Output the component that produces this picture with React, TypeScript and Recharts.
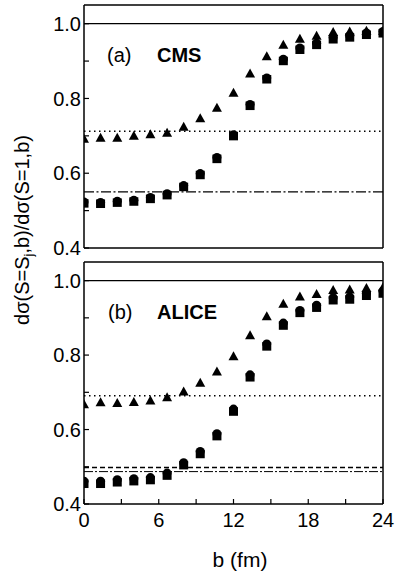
import { ScatterChart, Scatter, XAxis, YAxis, ReferenceLine } from "recharts";

// impact parameter grid (fm), same for all series
const bValues = [0, 1.33, 2.67, 4, 5.33, 6.67, 8, 9.33, 10.67, 12, 13.33, 14.67, 16, 17.33, 18.67, 20, 21.33, 22.67, 24];

// (a) CMS
const cmsTriangles = [0.692, 0.695, 0.695, 0.7, 0.704, 0.708, 0.724, 0.747, 0.775, 0.815, 0.867, 0.913, 0.944, 0.96, 0.968, 0.978, 0.979, 0.981, 0.981];
const cmsSquares = [0.52, 0.519, 0.522, 0.525, 0.532, 0.542, 0.564, 0.596, 0.639, 0.7, 0.781, 0.852, 0.901, 0.931, 0.944, 0.959, 0.964, 0.971, 0.975];
const cmsCircles = [0.523, 0.522, 0.525, 0.528, 0.535, 0.545, 0.567, 0.599, 0.642, 0.703, 0.784, 0.855, 0.905, 0.935, 0.948, 0.963, 0.968, 0.975, 0.979];
const cmsDotted = 0.712;
const cmsDashDot = 0.55;

// (b) ALICE
const aliceTriangles = [0.668, 0.673, 0.671, 0.674, 0.678, 0.687, 0.702, 0.726, 0.756, 0.797, 0.853, 0.904, 0.938, 0.957, 0.964, 0.975, 0.976, 0.98, 0.982];
const aliceSquares = [0.455, 0.455, 0.459, 0.462, 0.465, 0.477, 0.505, 0.535, 0.583, 0.649, 0.741, 0.824, 0.88, 0.914, 0.928, 0.948, 0.95, 0.96, 0.966];
const aliceCircles = [0.461, 0.461, 0.465, 0.468, 0.471, 0.483, 0.511, 0.541, 0.589, 0.655, 0.747, 0.83, 0.886, 0.92, 0.934, 0.954, 0.956, 0.966, 0.972];
const aliceDotted = 0.691;
const aliceDashed = 0.498;
const aliceDashDot = 0.487;

const xTicks = [0, 3, 6, 9, 12, 15, 18, 21, 24];
const yTicks = [0.4, 0.5, 0.6, 0.7, 0.8, 0.9, 1.0];

const FONT = "'Liberation Sans', Arial, Helvetica, sans-serif";
const tickStyle = { fill: "#000", fontSize: 20, fontFamily: FONT };

const toPoints = (vals: number[]) => vals.map((v, i) => ({ b: bValues[i], v }));

const Triangle = (p: any) => {
  const { cx, cy } = p;
  if (cx == null || cy == null) return null;
  return <polygon points={`${cx - 5},${cy + 4} ${cx + 5},${cy + 4} ${cx},${cy - 5}`} fill="#000" />;
};
const Square = (p: any) => {
  const { cx, cy } = p;
  if (cx == null || cy == null) return null;
  return <rect x={cx - 4.5} y={cy - 4} width={9} height={8.5} fill="#000" />;
};
const Circle = (p: any) => {
  const { cx, cy } = p;
  if (cx == null || cy == null) return null;
  return <circle cx={cx} cy={cy} r={4.5} fill="#000" />;
};

const fmtX = (v: number) => (v % 6 === 0 ? String(v) : "");
const fmtY = (v: number) => (Math.round(v * 10) % 2 === 0 ? v.toFixed(1) : "");

type PanelProps = {
  height: number;
  topH: number;
  bottomH: number;
  showXLabels: boolean;
  triangles: number[];
  squares: number[];
  circles: number[];
  lines: { y: number; dash?: string; width: number }[];
};

function Panel({ height, topH, bottomH, showXLabels, triangles, squares, circles, lines }: PanelProps) {
  return (
    <ScatterChart width={396} height={height} margin={{ top: 0, right: 0, bottom: 0, left: 0 }}>
      <XAxis
        type="number"
        dataKey="b"
        domain={[0, 24]}
        ticks={xTicks}
        interval={0}
        allowDataOverflow
        height={bottomH}
        tickSize={-5}
        tickMargin={14}
        tick={showXLabels ? tickStyle : false}
        tickFormatter={fmtX}
        axisLine={{ stroke: "#000", strokeWidth: 1.5 }}
        tickLine={{ stroke: "#000", strokeWidth: 1.2 }}
      />
      <XAxis
        xAxisId="top"
        orientation="top"
        type="number"
        domain={[0, 24]}
        ticks={xTicks}
        interval={0}
        height={topH}
        tickSize={-5}
        tick={false}
        axisLine={{ stroke: "#000", strokeWidth: 1.5 }}
        tickLine={{ stroke: "#000", strokeWidth: 1.2 }}
      />
      <YAxis
        type="number"
        dataKey="v"
        domain={[0.4, 1.05]}
        ticks={yTicks}
        interval={0}
        width={84}
        tickSize={-5}
        tickMargin={8}
        tick={tickStyle}
        tickFormatter={fmtY}
        axisLine={{ stroke: "#000", strokeWidth: 1.5 }}
        tickLine={{ stroke: "#000", strokeWidth: 1.2 }}
      />
      <YAxis
        yAxisId="r"
        orientation="right"
        type="number"
        domain={[0.4, 1.05]}
        ticks={yTicks}
        interval={0}
        width={13}
        tickSize={-5}
        tick={false}
        axisLine={{ stroke: "#000", strokeWidth: 1.5 }}
        tickLine={{ stroke: "#000", strokeWidth: 1.2 }}
      />
      <ReferenceLine y={1.0} stroke="#000" strokeWidth={1.3} />
      {lines.map((l, i) => (
        <ReferenceLine key={i} y={l.y} stroke="#000" strokeWidth={l.width} strokeDasharray={l.dash} />
      ))}
      <Scatter data={toPoints(squares)} shape={Square} isAnimationActive={false} />
      <Scatter data={toPoints(circles)} shape={Circle} isAnimationActive={false} />
      <Scatter data={toPoints(triangles)} shape={Triangle} isAnimationActive={false} />
    </ScatterChart>
  );
}

export default function App() {
  return (
    <div style={{ position: "absolute", left: 0, top: 0, width: 396, height: 571, background: "#fff", fontFamily: FONT }}>
      <div style={{ position: "absolute", left: 0, top: 255 }}>
        <Panel
          height={316}
          topH={7}
          bottomH={67}
          showXLabels={true}
          triangles={aliceTriangles}
          squares={aliceSquares}
          circles={aliceCircles}
          lines={[
            { y: aliceDotted, dash: "1.5 3.5", width: 1.5 },
            { y: aliceDashed, dash: "5 3", width: 1.3 },
            { y: aliceDashDot, dash: "9 2 2 2", width: 1 },
          ]}
        />
      </div>
      <div style={{ position: "absolute", left: 0, top: 0 }}>
        <Panel
          height={262}
          topH={5}
          bottomH={14}
          showXLabels={false}
          triangles={cmsTriangles}
          squares={cmsSquares}
          circles={cmsCircles}
          lines={[
            { y: cmsDotted, dash: "1.5 3.5", width: 1.5 },
            { y: cmsDashDot, dash: "10 2.5 2 2.5", width: 1.3 },
          ]}
        />
      </div>
      <svg width={396} height={571} style={{ position: "absolute", left: 0, top: 0, pointerEvents: "none" }}>
        <g fontFamily={FONT} fill="#000">
          <text transform="translate(29,230) rotate(-90)" textAnchor="middle" fontSize={20}>
            dσ(S=S<tspan fontSize={13} dy={4}>j</tspan>
            <tspan dy={-4}>,b)/dσ(S=1,b)</tspan>
          </text>
          <text x={240} y={567} textAnchor="middle" fontSize={21}>b (fm)</text>
          <text x={107} y={62} fontSize={20}>(a)</text>
          <text x={157} y={62} fontSize={20} fontWeight="bold">CMS</text>
          <text x={108} y={319} fontSize={20}>(b)</text>
          <text x={157} y={319} fontSize={20} fontWeight="bold">ALICE</text>
        </g>
      </svg>
    </div>
  );
}
